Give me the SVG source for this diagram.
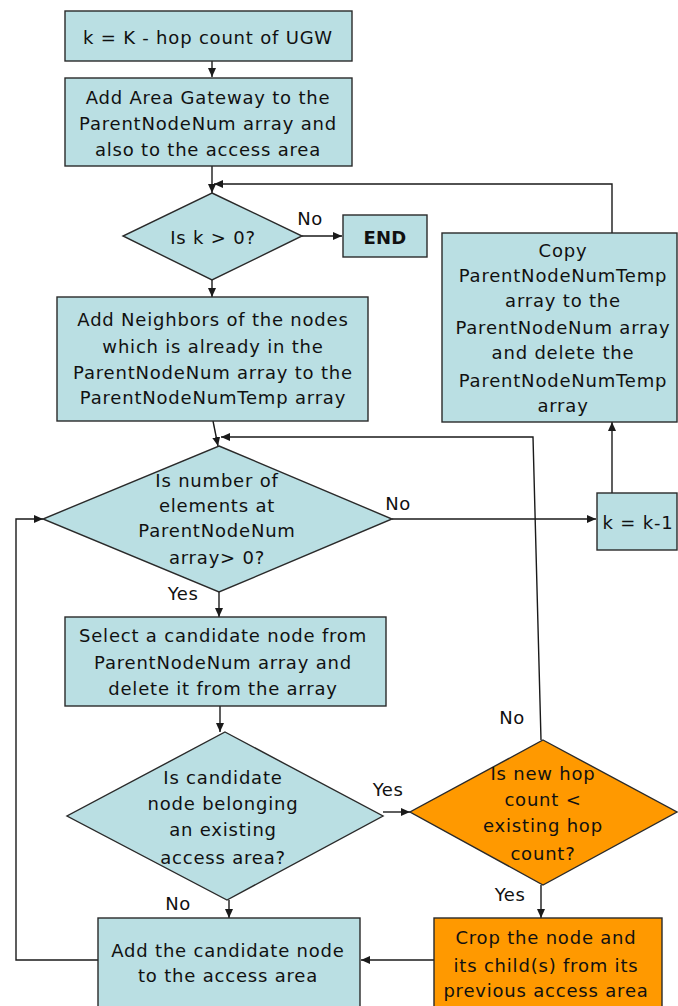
<svg xmlns="http://www.w3.org/2000/svg" width="678" height="1006" viewBox="0 0 678 1006">
  <defs>
    <marker id="arrow" markerWidth="9" markerHeight="8" refX="9" refY="4" orient="auto" markerUnits="userSpaceOnUse">
      <path d="M0,0 L9,4 L0,8 Z" fill="#1a1a1a"/>
    </marker>
    <style>
      .box { fill: #badfe3; stroke: #2a2a2a; stroke-width: 1.4; }
      .hot { fill: #ff9900; stroke: #2a2a2a; stroke-width: 1.4; }
      .t { font-family: "DejaVu Sans", Verdana, sans-serif; font-size: 18px; letter-spacing: 0.8px; fill: #111; text-anchor: middle; dominant-baseline: central; }
      .lbl { font-family: "DejaVu Sans", Verdana, sans-serif; font-size: 18px; letter-spacing: 0.5px; fill: #111; text-anchor: middle; dominant-baseline: central; }
      .b { font-weight: bold; letter-spacing: 0.3px; }
      .c { fill: none; stroke: #1a1a1a; stroke-width: 1.4; }
      .ca { fill: none; stroke: #1a1a1a; stroke-width: 1.4; marker-end: url(#arrow); }
    </style>
  </defs>
  <rect width="678" height="1006" fill="#ffffff"/>

  <!-- connectors -->
  <g id="connectors">
    <line class="ca" x1="212" y1="61" x2="212" y2="77"/>
    <line class="ca" x1="212" y1="166" x2="212" y2="193"/>
    <polyline class="ca" points="612,233 612,184 214,184"/>
    <line class="ca" x1="302" y1="236" x2="342" y2="236"/>
    <line class="ca" x1="212" y1="280" x2="212" y2="297"/>
    <polyline class="ca" points="213,421 218,446"/>
    <polyline class="ca" points="541,740 533,437 221,437"/>
    <line class="ca" x1="392" y1="519" x2="596" y2="519"/>
    <line class="ca" x1="612" y1="493" x2="612" y2="422"/>
    <line class="ca" x1="219" y1="592" x2="219" y2="617"/>
    <line class="ca" x1="220" y1="706" x2="220" y2="732"/>
    <line class="ca" x1="383" y1="812" x2="410" y2="812"/>
    <line class="ca" x1="229" y1="900" x2="229" y2="918"/>
    <line class="ca" x1="541" y1="885" x2="541" y2="918"/>
    <line class="ca" x1="434" y1="960" x2="361" y2="960"/>
    <polyline class="ca" points="98,960 16,960 16,519 43,519"/>
  </g>

  <g id="n-init">
    <rect class="box" x="65" y="11" width="287" height="50"/>
    <text class="t" x="208" y="37">k = K - hop count of UGW</text>
  </g>

  <g id="n-gateway">
    <rect class="box" x="65" y="78" width="287" height="88"/>
    <text class="t" x="208" y="97">Add Area Gateway to the</text>
    <text class="t" x="208" y="123">ParentNodeNum array and</text>
    <text class="t" x="208" y="149">also to the access area</text>
  </g>

  <g id="n-kcheck">
    <polygon class="box" points="212,193 302,236 212,280 123,236"/>
    <text class="t" x="213" y="237">Is k &gt; 0?</text>
  </g>
  <text class="lbl" x="310" y="218">No</text>

  <g id="n-end">
    <rect class="box" x="343" y="215" width="84" height="42"/>
    <text class="t b" x="385" y="237">END</text>
  </g>

  <g id="n-neighbors">
    <rect class="box" x="57" y="297" width="311" height="124"/>
    <text class="t" x="213" y="319">Add Neighbors of the nodes</text>
    <text class="t" x="213" y="346">which is already in the</text>
    <text class="t" x="213" y="372">ParentNodeNum array to the</text>
    <text class="t" x="213" y="397">ParentNodeNumTemp array</text>
  </g>

  <g id="n-count">
    <polygon class="box" points="219,446 392,519 219,592 43,519"/>
    <text class="t" x="217" y="480">Is number of</text>
    <text class="t" x="217" y="505">elements at</text>
    <text class="t" x="217" y="530">ParentNodeNum</text>
    <text class="t" x="217" y="557">array&gt; 0?</text>
  </g>
  <text class="lbl" x="398" y="503">No</text>
  <text class="lbl" x="183" y="593">Yes</text>

  <g id="n-copy">
    <rect class="box" x="442" y="233" width="235" height="189"/>
    <text class="t" x="563" y="250">Copy</text>
    <text class="t" x="563" y="275">ParentNodeNumTemp</text>
    <text class="t" x="563" y="300">array to the</text>
    <text class="t" x="563" y="327">ParentNodeNum array</text>
    <text class="t" x="563" y="352">and delete the</text>
    <text class="t" x="563" y="380">ParentNodeNumTemp</text>
    <text class="t" x="563" y="405">array</text>
  </g>

  <g id="n-decrement">
    <rect class="box" x="597" y="493" width="80" height="57"/>
    <text class="t" x="638" y="522">k = k-1</text>
  </g>

  <g id="n-select">
    <rect class="box" x="65" y="617" width="321" height="89"/>
    <text class="t" x="223" y="635">Select a candidate node from</text>
    <text class="t" x="223" y="662">ParentNodeNum array and</text>
    <text class="t" x="223" y="688">delete it from the array</text>
  </g>

  <g id="n-belongs">
    <polygon class="box" points="225,732 383,816 227,900 67,816"/>
    <text class="t" x="223" y="777">Is candidate</text>
    <text class="t" x="223" y="803">node belonging</text>
    <text class="t" x="223" y="829">an existing</text>
    <text class="t" x="223" y="857">access area?</text>
  </g>
  <text class="lbl" x="388" y="789">Yes</text>
  <text class="lbl" x="178" y="903">No</text>

  <g id="n-hops">
    <polygon class="hot" points="543,740 677,812 543,885 410,812"/>
    <text class="t" x="543" y="773">Is new hop</text>
    <text class="t" x="543" y="799">count &lt;</text>
    <text class="t" x="543" y="825">existing hop</text>
    <text class="t" x="543" y="853">count?</text>
  </g>
  <text class="lbl" x="512" y="717">No</text>
  <text class="lbl" x="510" y="894">Yes</text>

  <g id="n-add">
    <rect class="box" x="98" y="918" width="262" height="95"/>
    <text class="t" x="228" y="950">Add the candidate node</text>
    <text class="t" x="228" y="975">to the access area</text>
  </g>

  <g id="n-crop">
    <rect class="hot" x="434" y="918" width="228" height="95"/>
    <text class="t" x="546" y="937">Crop the node and</text>
    <text class="t" x="546" y="965">its child(s) from its</text>
    <text class="t" x="546" y="990">previous access area</text>
  </g>
</svg>
